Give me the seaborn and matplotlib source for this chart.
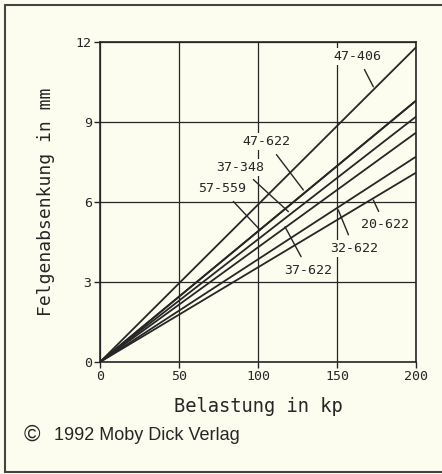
import matplotlib
matplotlib.use("Agg")
import matplotlib.pyplot as plt
from matplotlib.lines import Line2D
import seaborn as sns
import pandas as pd

# ---- data ----
tires = ["47-406", "47-622", "57-559", "37-348", "37-622", "32-622", "20-622"]
load_kp = [0, 200]
deflection_at_200 = [11.8, 9.8, 9.8, 9.2, 8.6, 7.7, 7.1]
x_ticks = [0, 50, 100, 150, 200]
y_ticks = [0, 3, 6, 9, 12]

# label positions (text, leader end) in data units
label_text_pos = [(163, 11.47), (105.5, 8.26), (77, 6.49), (88.6, 7.30),
                  (131.8, 3.45), (160.8, 4.26), (180.4, 5.14)]
leader_end = [(173, 10.32), (128.7, 6.45), (101.3, 4.95), (119.2, 5.64),
              (117.1, 5.07), (150.8, 5.70), (173, 6.07)]

rows = []
for t, v in zip(tires, deflection_at_200):
    for x in load_kp:
        rows.append({"tire": t, "load": x, "defl": v * x / 200})
df = pd.DataFrame(rows)

paper = "#fcfcef"
ink = "#262626"

sns.set_theme(style="white")
plt.rcParams["font.family"] = ["DejaVu Sans Mono", "DejaVu Sans"]

fig = plt.figure(figsize=(4.42, 4.74), dpi=100, facecolor=paper)
ax = fig.add_axes([100 / 442, 1 - 362 / 474, 316 / 442, 320 / 474])
ax.set_facecolor(paper)

sns.lineplot(data=df, x="load", y="defl", hue="tire", hue_order=tires,
             palette=[ink] * len(tires), legend=False, ax=ax,
             linewidth=1.3, zorder=3)

ax.set_xlim(0, 200)
ax.set_ylim(0, 12)
ax.set_xticks(x_ticks)
ax.set_yticks(y_ticks)
ax.grid(True, color=ink, linewidth=0.9, zorder=1)
for s in ax.spines.values():
    s.set_color(ink)
    s.set_linewidth(1.2)
ax.tick_params(direction="out", length=4, width=1, colors=ink,
               labelsize=9.5, pad=2, left=True, bottom=True)

ax.set_xlabel("Belastung in kp", fontsize=13.5, color=ink)
ax.xaxis.label.set_verticalalignment("center")
ax.xaxis.set_label_coords(0.5, -0.14)
ax.set_ylabel("Felgenabsenkung in mm", fontsize=13, color=ink)
ax.yaxis.label.set_verticalalignment("center")
ax.yaxis.set_label_coords(-0.172, 0.5)

for t, (tx, ty), (ex, ey) in zip(tires, label_text_pos, leader_end):
    ax.annotate(t, xy=(ex, ey), xytext=(tx, ty), textcoords="data",
                ha="center", va="center", fontsize=9.5, color=ink, zorder=5,
                bbox=dict(boxstyle="square,pad=0.15", fc=paper, ec="none"),
                arrowprops=dict(arrowstyle="-", color=ink, lw=1.0,
                                shrinkA=4, shrinkB=0))

fig.text(24 / 442, 1 - 441 / 474, "\u00a9", fontsize=16,
         family="Liberation Sans", color=ink, va="baseline")
fig.text(54 / 442, 1 - 440 / 474, "1992 Moby Dick Verlag", fontsize=13,
         family="Liberation Sans", color=ink, va="baseline")

# scanned page frame
fig.add_artist(Line2D([5 / 442, 5 / 442], [1 - 5 / 474, 1 - 472 / 474],
                      transform=fig.transFigure, color="#444444", lw=1.5))
fig.add_artist(Line2D([5 / 442, 1], [1 - 5 / 474, 1 - 5 / 474],
                      transform=fig.transFigure, color="#444444", lw=1.5))
fig.add_artist(Line2D([5 / 442, 1], [1 - 472 / 474, 1 - 472 / 474],
                      transform=fig.transFigure, color="#444444", lw=1.5))

fig.savefig("out.png", dpi=100, facecolor=paper)
